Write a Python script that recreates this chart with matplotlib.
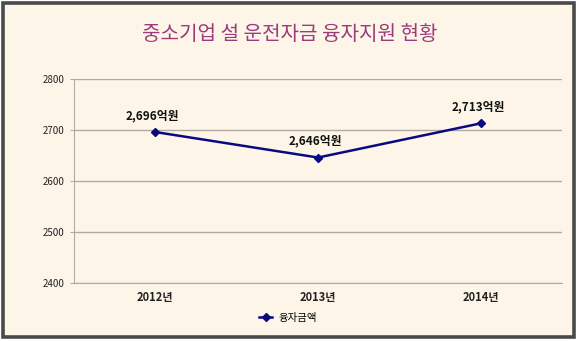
import numpy as np
import matplotlib
matplotlib.use('Agg')
import matplotlib.pyplot as plt
from matplotlib.patches import Rectangle

plt.rcParams['font.family'] = ['Noto Sans CJK KR', 'DejaVu Sans']

# ---------------------------------------------------------------
# data
# ---------------------------------------------------------------
years = ['2012년', '2013년', '2014년']
amounts = [2696, 2646, 2713]
value_labels = ['2,696억원', '2,646억원', '2,713억원']
y_ticks = [2400, 2500, 2600, 2700, 2800]
series_name = '융자금액'
title = '중소기업 설 운전자금 융자지원 현황'

bg = '#fdf6e8'
grid_c = '#b0aaa0'
line_c = '#0a0a80'

fig = plt.figure(figsize=(5.8, 3.41), dpi=100)
fig.patch.set_facecolor('white')

# outer chart frame (behind the axes)
W, H = 580, 341
fig.patches.append(Rectangle((3 / W, 4 / H), 571 / W, 334 / H, transform=fig.transFigure,
                             facecolor=bg, edgecolor='#4a4a4a', linewidth=2.6, zorder=-10))

ax = fig.add_axes([74 / W, 1 - 283 / H, 488 / W, 204 / H])
ax.set_facecolor('none')

x = np.arange(len(years))
ax.plot(x, amounts, color=line_c, linewidth=1.8, marker='D', markersize=4.5,
        markerfacecolor=line_c, markeredgecolor=line_c, label=series_name, zorder=3)

for xi, yi, lab in zip(x, amounts, value_labels):
    ax.annotate(lab, (xi, yi), xytext=(-2, 7), textcoords='offset points',
                ha='center', va='bottom', fontsize=8.5, fontweight='bold', color='#111111')

ax.set_xlim(-0.5, len(years) - 0.5)
ax.set_ylim(2400, 2800)
ax.set_yticks(y_ticks)
ax.set_yticklabels([str(v) for v in y_ticks], fontsize=7, color='#222222')
ax.set_xticks(x)
ax.set_xticklabels(years, fontsize=8, fontweight='bold', color='#222222')
ax.tick_params(axis='x', length=0, pad=6)
ax.tick_params(axis='y', length=3, color=grid_c, pad=4)

ax.yaxis.grid(True, color=grid_c, linewidth=1)
ax.set_axisbelow(True)
for s in ['top', 'right']:
    ax.spines[s].set_visible(False)
ax.spines['left'].set_color(grid_c)
ax.spines['bottom'].set_color(grid_c)

fig.text(0.5, 1 - 35 / H, title, ha='center', va='center', fontsize=14.5, color='#9b3a7c')

fig.legend(loc='center', bbox_to_anchor=(288 / W, 1 - 318 / H), frameon=False,
           fontsize=7.5, handlelength=1.2, handletextpad=0.6)

fig.savefig('out.png', dpi=100, facecolor=fig.get_facecolor())
